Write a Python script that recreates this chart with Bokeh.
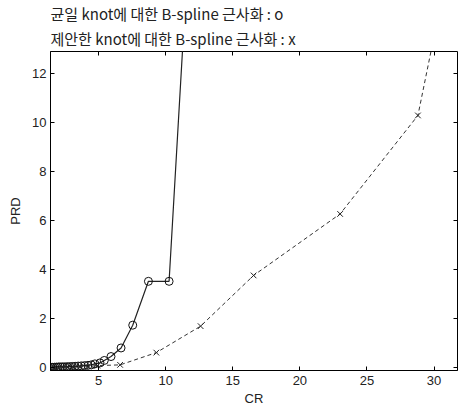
from bokeh.plotting import figure
from bokeh.models import Range1d, LinearAxis, Title, FixedTicker, CustomJSTickFormatter
from bokeh.embed import file_html
from bokeh.resources import INLINE

# Data
x_o = [1.45, 1.58, 1.72, 1.86, 2.0, 2.15, 2.3, 2.47, 2.65, 2.84, 3.04, 3.25, 3.47, 3.7,
       3.95, 4.2, 4.45, 4.72, 5.1, 5.42, 5.92, 6.67, 7.54, 8.71, 10.25, 12.0]
y_o = [0.01, 0.01, 0.015, 0.02, 0.02, 0.025, 0.03, 0.03, 0.035, 0.04, 0.045, 0.05, 0.06, 0.07,
       0.08, 0.09, 0.11, 0.15, 0.19, 0.29, 0.45, 0.80, 1.73, 3.52, 3.52, 20.0]

x_x = [1.45, 1.7, 2.0, 2.3, 2.7, 3.1, 3.6, 4.2, 4.9, 6.6, 9.3, 12.6, 16.55, 23.0, 28.8, 31.0]
y_x = [0.0, 0.0, 0.005, 0.01, 0.015, 0.02, 0.03, 0.05, 0.08, 0.11, 0.61, 1.69, 3.76, 6.27, 10.29, 16.2]

x_ticks = [5, 10, 15, 20, 25, 30]
y_ticks = [0, 2, 4, 6, 8, 10, 12]

title1 = "균일 knot에 대한 B-spline 근사화 : o"
title2 = "제안한 knot에 대한 B-spline 근사화 : x"

p = figure(width=459, height=408, output_backend="svg", toolbar_location=None,
           x_range=Range1d(1.41, 31.75), y_range=Range1d(-0.12, 12.9),
           min_border_left=50, min_border_right=2, min_border_bottom=38, min_border_top=0)

p.xgrid.visible = False
p.ygrid.visible = False
p.outline_line_color = "black"
p.outline_line_width = 1
p.background_fill_color = "white"
p.border_fill_color = "white"

tick_font = "Liberation Sans"
for ax in p.xaxis + p.yaxis:
    ax.major_tick_in = 4
    ax.major_tick_out = 0
    ax.minor_tick_in = 0
    ax.minor_tick_out = 0
    ax.axis_line_color = "black"
    ax.major_tick_line_color = "black"
    ax.major_label_text_font = tick_font
    ax.major_label_text_font_size = "13px"
    ax.major_label_text_color = "#222222"
    ax.axis_label_text_font = tick_font
    ax.axis_label_text_font_size = "13px"
    ax.axis_label_text_font_style = "normal"
    ax.axis_label_text_color = "#222222"

p.xaxis.ticker = FixedTicker(ticks=x_ticks)
p.yaxis.ticker = FixedTicker(ticks=y_ticks)
p.xaxis.axis_label = "CR"
p.yaxis.axis_label = "PRD"
p.xaxis.major_label_standoff = 5
p.yaxis.major_label_standoff = 4
p.xaxis.axis_label_standoff = 3
p.yaxis.axis_label_standoff = 6

blank = CustomJSTickFormatter(code="return ''")
top_ax = LinearAxis(ticker=FixedTicker(ticks=x_ticks), formatter=blank,
                    major_tick_in=4, major_tick_out=0, minor_tick_in=0, minor_tick_out=0,
                    major_label_standoff=0, major_label_text_font_size="1px",
                    axis_line_color=None)
right_ax = LinearAxis(ticker=FixedTicker(ticks=y_ticks), formatter=blank,
                      major_tick_in=4, major_tick_out=0, minor_tick_in=0, minor_tick_out=0,
                      major_label_standoff=0, major_label_text_font_size="1px",
                      axis_line_color=None)
p.add_layout(right_ax, "right")
p.add_layout(top_ax, "above")

p.add_layout(Title(text=title2, text_font="Noto Sans CJK KR", text_font_size="15px",
                   text_font_style="normal", text_color="#222222", offset=0, standoff=5), "above")
p.add_layout(Title(text=title1, text_font="Noto Sans CJK KR", text_font_size="15px",
                   text_font_style="normal", text_color="#222222", offset=0, standoff=0), "above")

p.line(x_o, y_o, line_color="#222222", line_width=1.2)
p.scatter(x_o, y_o, marker="circle", size=8, fill_color=None, line_color="#111111", line_width=1)

p.line(x_x, y_x, line_color="#333333", line_width=1, line_dash="4 3")
p.scatter(x_x, y_x, marker="x", size=8, line_color="#222222", line_width=1)

open("out.html", "w").write(file_html(p, INLINE))
